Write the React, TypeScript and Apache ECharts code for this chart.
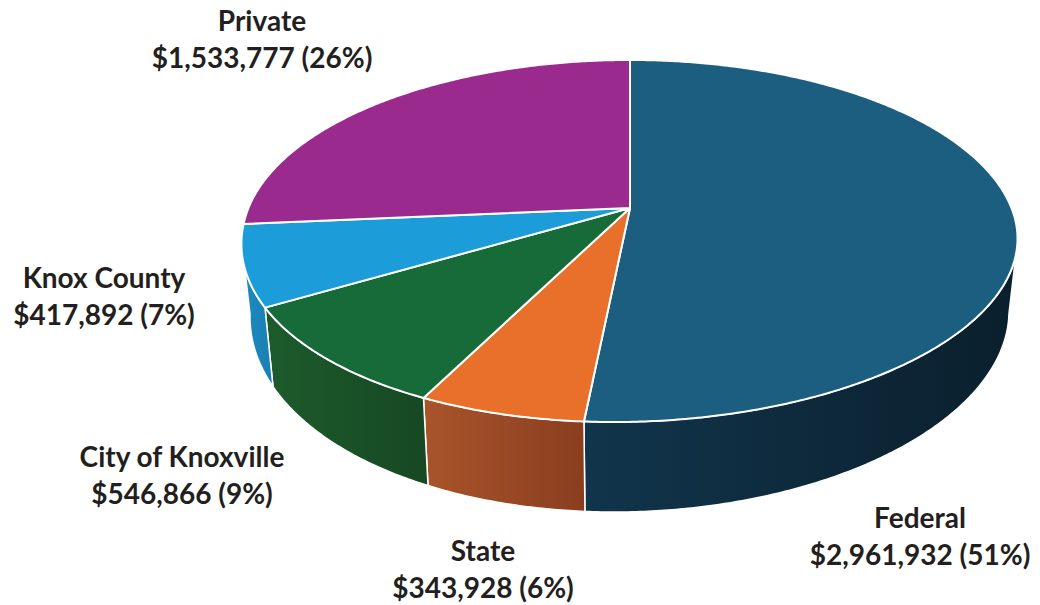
import React, { useEffect, useRef } from "react";
import * as echarts from "echarts";

const categories = ["Federal", "State", "City of Knoxville", "Knox County", "Private"];
const values = [2961932, 343928, 546866, 417892, 1533777];

const topColors = ["#1b5e80", "#e8702b", "#176b38", "#1c9cd8", "#9b2a8f"];
const wallColors = [
  ["#11354c", "#0a1f2c"],
  ["#a9542b", "#8a3e1f"],
  ["#1d5b2c", "#164823"],
  ["#1c8cc4", "#1a7eb2"],
  ["#7d2274", "#6a1c62"],
];
const labelPos = [
  [920, 535],
  [483, 568],
  [182, 474],
  [104, 295],
  [262, 38],
];

// perspective geometry of the pie
const CX = 630;
const CY = 208;
const RA = 381.5;
const RB = 175;
const KP = -0.1823;
const DEPTH = 69.7;
const DEPTH_POW = 1.27;
const BOTTOM_SCALE = 0.978;
const FRONT_SHIFT = -16;

function proj(theta: number, bottom: boolean): number[] {
  const X = Math.sin(theta);
  const Z = -Math.cos(theta);
  const w = 1 + KP * Z;
  let dx = (RA * X) / w + (Z > 0 ? FRONT_SHIFT * Z * Z : 0);
  let dy = (RB * Z) / w;
  if (bottom) {
    dx *= BOTTOM_SCALE;
    dy += DEPTH / Math.pow(w, DEPTH_POW);
  }
  return [CX + dx, CY + dy];
}

function arcPoints(a: number, b: number, bottom: boolean): number[][] {
  const pts: number[][] = [];
  const n = Math.max(2, Math.ceil(Math.abs(b - a) / (Math.PI / 360)));
  for (let i = 0; i <= n; i++) {
    pts.push(proj(a + ((b - a) * i) / n, bottom));
  }
  return pts;
}

const total = values.reduce((s, v) => s + v, 0);
const fmt = (v: number) => "$" + v.toLocaleString("en-US");
const pct = (v: number) => Math.round((v / total) * 100) + "%";

export default function App() {
  const ref = useRef<HTMLDivElement>(null);
  useEffect(() => {
    document.body.style.margin = "0";
    const chart = echarts.init(ref.current!, null, { renderer: "svg" });
    // angles where the outer wall turns away from the viewer
    const thL = Math.acos(KP);
    const thR = 2 * Math.PI - thL;
    chart.setOption({
      animation: false,
      backgroundColor: "#ffffff",
      series: [
        {
          type: "custom",
          coordinateSystem: "none",
          data: values.map((v, i) => ({ name: categories[i], value: v })),
          renderItem: (params: any, api: any) => {
            const i = params.dataIndex;
            let start = 0;
            for (let j = 0; j < i; j++) start += values[j];
            const v = api.value(0);
            const t0 = (start / total) * 2 * Math.PI;
            const t1 = ((start + v) / total) * 2 * Math.PI;
            const children: any[] = [];
            const wa = Math.max(t0, thL);
            const wb = Math.min(t1, thR);
            if (wb > wa) {
              const top = arcPoints(wa, wb, false);
              const bot = arcPoints(wb, wa, true);
              children.push({
                type: "polygon",
                shape: { points: top.concat(bot) },
                style: {
                  fill: new echarts.graphic.LinearGradient(0, 0, 1, 0, [
                    { offset: 0, color: wallColors[i][0] },
                    { offset: 1, color: wallColors[i][1] },
                  ]),
                  stroke: "#ffffff",
                  lineWidth: 1.5,
                  lineJoin: "round",
                },
              });
            }
            const face = [[CX, CY]].concat(arcPoints(t0, t1, false));
            children.push({
              type: "polygon",
              shape: { points: face },
              style: {
                fill: topColors[i],
                stroke: "#ffffff",
                lineWidth: 2,
                lineJoin: "round",
              },
            });
            return { type: "group", children };
          },
        },
      ],
      graphic: categories.map((c, i) => ({
        type: "text",
        x: labelPos[i][0],
        y: labelPos[i][1],
        style: {
          text: c + "\n" + fmt(values[i]) + " (" + pct(values[i]) + ")",
          fontFamily: "Lato",
          fontWeight: "bold",
          fontSize: 28,
          lineHeight: 37,
          fill: "#231f20",
          align: "center",
          verticalAlign: "middle",
        },
      })),
    });
    return () => chart.dispose();
  }, []);
  return <div ref={ref} style={{ width: 1040, height: 605 }} />;
}
